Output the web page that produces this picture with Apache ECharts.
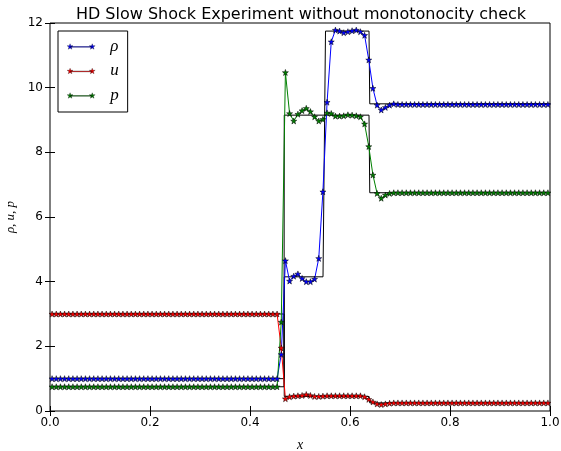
<!DOCTYPE html>
<html>
<head>
<meta charset="utf-8">
<script src="https://cdn.jsdelivr.net/npm/echarts@6/dist/echarts.min.js"></script>
<style>
  html, body { margin: 0; padding: 0; background: #fff; }
  #chart { width: 561px; height: 451px; }
</style>
</head>
<body>
<div id="chart"></div>
<script>
// Numerical solution on 120 cells (values at cell centres)
const cellCount = 120;

const rho = [
  1.00, 1.00, 1.00, 1.00, 1.00, 1.00, 1.00, 1.00, 1.00, 1.00,
  1.00, 1.00, 1.00, 1.00, 1.00, 1.00, 1.00, 1.00, 1.00, 1.00,
  1.00, 1.00, 1.00, 1.00, 1.00, 1.00, 1.00, 1.00, 1.00, 1.00,
  1.00, 1.00, 1.00, 1.00, 1.00, 1.00, 1.00, 1.00, 1.00, 1.00,
  1.00, 1.00, 1.00, 1.00, 1.00, 1.00, 1.00, 1.00, 1.00, 1.00,
  1.00, 1.00, 1.00, 1.00, 1.00, 1.75, 4.65, 4.02, 4.17, 4.24,
  4.10, 4.00, 4.00, 4.08, 4.72, 6.78, 9.55, 11.42, 11.78, 11.75,
  11.70, 11.73, 11.76, 11.78, 11.73, 11.62, 10.86, 9.98, 9.46, 9.31,
  9.39, 9.46, 9.50, 9.48, 9.48, 9.48, 9.48, 9.48, 9.48, 9.48,
  9.48, 9.48, 9.48, 9.48, 9.48, 9.48, 9.48, 9.48, 9.48, 9.48,
  9.48, 9.48, 9.48, 9.48, 9.48, 9.48, 9.48, 9.48, 9.48, 9.48,
  9.48, 9.48, 9.48, 9.48, 9.48, 9.48, 9.48, 9.48, 9.48, 9.48
];

const u = [
  3.00, 3.00, 3.00, 3.00, 3.00, 3.00, 3.00, 3.00, 3.00, 3.00,
  3.00, 3.00, 3.00, 3.00, 3.00, 3.00, 3.00, 3.00, 3.00, 3.00,
  3.00, 3.00, 3.00, 3.00, 3.00, 3.00, 3.00, 3.00, 3.00, 3.00,
  3.00, 3.00, 3.00, 3.00, 3.00, 3.00, 3.00, 3.00, 3.00, 3.00,
  3.00, 3.00, 3.00, 3.00, 3.00, 3.00, 3.00, 3.00, 3.00, 3.00,
  3.00, 3.00, 3.00, 3.00, 3.00, 1.95, 0.38, 0.44, 0.46, 0.47,
  0.48, 0.51, 0.48, 0.45, 0.45, 0.46, 0.47, 0.47, 0.47, 0.47,
  0.47, 0.47, 0.47, 0.47, 0.47, 0.44, 0.36, 0.28, 0.22, 0.20,
  0.22, 0.24, 0.25, 0.25, 0.25, 0.25, 0.25, 0.25, 0.25, 0.25,
  0.25, 0.25, 0.25, 0.25, 0.25, 0.25, 0.25, 0.25, 0.25, 0.25,
  0.25, 0.25, 0.25, 0.25, 0.25, 0.25, 0.25, 0.25, 0.25, 0.25,
  0.25, 0.25, 0.25, 0.25, 0.25, 0.25, 0.25, 0.25, 0.25, 0.25
];

const p = [
  0.75, 0.75, 0.75, 0.75, 0.75, 0.75, 0.75, 0.75, 0.75, 0.75,
  0.75, 0.75, 0.75, 0.75, 0.75, 0.75, 0.75, 0.75, 0.75, 0.75,
  0.75, 0.75, 0.75, 0.75, 0.75, 0.75, 0.75, 0.75, 0.75, 0.75,
  0.75, 0.75, 0.75, 0.75, 0.75, 0.75, 0.75, 0.75, 0.75, 0.75,
  0.75, 0.75, 0.75, 0.75, 0.75, 0.75, 0.75, 0.75, 0.75, 0.75,
  0.75, 0.75, 0.75, 0.75, 0.75, 2.75, 10.47, 9.20, 8.97, 9.18,
  9.29, 9.36, 9.26, 9.10, 8.97, 9.02, 9.22, 9.20, 9.12, 9.12,
  9.13, 9.16, 9.15, 9.13, 9.10, 8.88, 8.18, 7.30, 6.73, 6.58,
  6.68, 6.73, 6.75, 6.75, 6.75, 6.75, 6.75, 6.75, 6.75, 6.75,
  6.75, 6.75, 6.75, 6.75, 6.75, 6.75, 6.75, 6.75, 6.75, 6.75,
  6.75, 6.75, 6.75, 6.75, 6.75, 6.75, 6.75, 6.75, 6.75, 6.75,
  6.75, 6.75, 6.75, 6.75, 6.75, 6.75, 6.75, 6.75, 6.75, 6.75
];

// Exact Riemann solution: breakpoints and piecewise-constant states
const exactRhoX = [0, 0.468, 0.4685, 0.546, 0.551, 0.638, 0.6395, 1];
const exactRhoY = [1.0, 1.0, 4.15, 4.15, 11.75, 11.75, 9.5, 9.5];
const exactUX = [0, 0.468, 0.4685, 0.638, 0.6395, 1];
const exactUY = [3.0, 3.0, 0.45, 0.45, 0.25, 0.25];
const exactPX = [0, 0.468, 0.4685, 0.638, 0.6395, 1];
const exactPY = [0.75, 0.75, 9.15, 9.15, 6.75, 6.75];

const seriesNames = ['ρ', 'u', 'p'];
const xTicks = { min: 0, max: 1, interval: 0.2 };
const yTicks = { min: 0, max: 12, interval: 2 };

const cellCentres = Array.from({ length: cellCount }, (_, i) => (i + 0.5) / cellCount);
const pairs = (xs, ys) => xs.map((x, i) => [x, ys[i]]);

const STAR = 'path://M0,-10L2.35,-3.24L9.51,-3.09L3.8,1.24L5.88,8.09L0,4L-5.88,8.09L-3.8,1.24L-9.51,-3.09L-2.35,-3.24Z';
// legend glyph: short line with a star at each end
const LEGEND_ICON = 'path://M3,0L3.7,2L5.9,2L4.1,3.3L4.8,5.4L3,4.2L1.2,5.4L1.9,3.3L0.1,2L2.3,2Z' +
  'M25,0L25.7,2L27.9,2L26.1,3.3L26.8,5.4L25,4.2L23.2,5.4L23.9,3.3L22.1,2L24.3,2Z' +
  'M3,2.7L25,2.7L25,3.5L3,3.5Z';

const colours = ['#0000ff', '#ff0000', '#008000'];
const values = [rho, u, p];

const numericSeries = seriesNames.map((name, k) => ({
  name: name,
  type: 'line',
  data: pairs(cellCentres, values[k]),
  symbol: STAR,
  symbolSize: 6,
  showAllSymbol: true,
  lineStyle: { color: colours[k], width: 1 },
  itemStyle: { color: colours[k], borderColor: '#000', borderWidth: 0.5 },
  emphasis: { disabled: true },
  animation: false,
  z: 3
}));

const exactSeries = [
  pairs(exactRhoX, exactRhoY),
  pairs(exactUX, exactUY),
  pairs(exactPX, exactPY)
].map((d) => ({
  type: 'line',
  data: d,
  symbol: 'none',
  lineStyle: { color: '#000', width: 1 },
  emphasis: { disabled: true },
  animation: false,
  z: 2
}));

const tickFont = { fontFamily: 'DejaVu Sans', fontSize: 12, color: '#000' };

const chart = echarts.init(document.getElementById('chart'), null, { renderer: 'canvas' });
chart.setOption({
  animation: false,
  backgroundColor: '#fff',
  title: {
    text: 'HD Slow Shock Experiment without monotonocity check',
    left: 296,
    top: 2,
    textAlign: 'center',
    textStyle: { fontFamily: 'DejaVu Sans', fontSize: 16, fontWeight: 'normal', color: '#000' }
  },
  grid: {
    left: 50, right: 11, top: 23, bottom: 40,
    outerBoundsMode: 'none',
    containLabel: false,
    show: true, borderColor: '#000', borderWidth: 1, backgroundColor: 'transparent'
  },
  legend: {
    data: seriesNames,
    orient: 'vertical',
    left: 58,
    top: 31,
    padding: [7, 9, 8, 9],
    itemGap: 7.5,
    itemWidth: 28,
    itemHeight: 6,
    icon: LEGEND_ICON,
    borderColor: '#000',
    borderWidth: 1,
    backgroundColor: '#fff',
    itemStyle: { borderColor: '#000', borderWidth: 0.3 },
    textStyle: {
      fontFamily: 'Liberation Serif', fontStyle: 'italic', fontSize: 17,
      lineHeight: 16, color: '#000', padding: [0, 0, 0, 10]
    },
    selectedMode: false
  },
  xAxis: [
    {
      type: 'value', min: xTicks.min, max: xTicks.max, interval: xTicks.interval,
      position: 'bottom',
      name: 'x', nameLocation: 'middle', nameGap: 27,
      nameTextStyle: { fontFamily: 'Liberation Serif', fontStyle: 'italic', fontSize: 14, color: '#000' },
      axisLine: { show: false },
      axisTick: { show: true, inside: true, length: 5, lineStyle: { color: '#000' } },
      axisLabel: Object.assign({ margin: 6, formatter: (v) => v.toFixed(1) }, tickFont),
      splitLine: { show: false }
    },
    {
      type: 'value', min: xTicks.min, max: xTicks.max, interval: xTicks.interval,
      position: 'top',
      axisLine: { show: false },
      axisTick: { show: true, inside: true, length: 5, lineStyle: { color: '#000' } },
      axisLabel: { show: false },
      splitLine: { show: false }
    }
  ],
  yAxis: [
    {
      type: 'value', min: yTicks.min, max: yTicks.max, interval: yTicks.interval,
      position: 'left',
      name: 'ρ, u, p', nameLocation: 'middle', nameGap: 31, nameRotate: 90,
      nameTextStyle: { fontFamily: 'Liberation Serif', fontStyle: 'italic', fontSize: 13, color: '#000' },
      axisLine: { show: false },
      axisTick: { show: true, inside: true, length: 5, lineStyle: { color: '#000' } },
      axisLabel: Object.assign({ margin: 7 }, tickFont),
      splitLine: { show: false }
    },
    {
      type: 'value', min: yTicks.min, max: yTicks.max, interval: yTicks.interval,
      position: 'right',
      axisLine: { show: false },
      axisTick: { show: true, inside: true, length: 5, lineStyle: { color: '#000' } },
      axisLabel: { show: false },
      splitLine: { show: false }
    }
  ],
  series: numericSeries.concat(exactSeries)
});
</script>
</body>
</html>
